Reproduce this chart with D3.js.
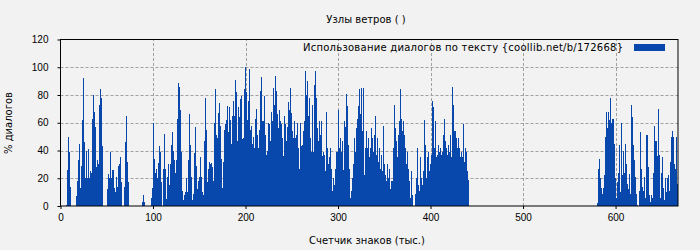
<html>
<head>
<meta charset="utf-8">
<style>
    body { margin: 0; background: #f2f2f2; }
    svg { display: block; font-family: "DejaVu Sans", sans-serif; }
    .tick text { font-size: 10px; fill: #000; }
</style>
<script src="https://cdn.jsdelivr.net/npm/d3@7"></script>
</head>
<body>
<svg id="chart"></svg>
<script>
    // width of one bin, thousands of characters
    let binSize = 1.08

    let xTicks = [0, 100, 200, 300, 400, 500, 600]
    let yTicks = [0, 20, 40, 60, 80, 100, 120]

    let title = "Узлы ветров ( )"
    let xLabel = "Счетчик знаков (тыс.)"
    let yLabel = "% диалогов"
    let legendLabel = "Использование диалогов по тексту {coollib.net/b/172668}"

    // where each run of bins starts (thousands of characters)
    let segStarts = [6.2, 17, 50.5, 69, 88, 97.6, 383.2, 579.8]

    let seg1 = [1, 26, 50, 39, 14]
    let seg2 = [7, 18, 33, 45, 13, 29, 62, 92, 46, 20, 40, 20, 41, 20, 25, 24, 63, 80, 68, 57, 28, 33, 30, 73, 84, 78, 43]
    let seg3 = [12, 23, 20, 39, 20, 26, 26, 13, 10, 21, 14, 29, 30, 35, 17]
    let seg4 = [14, 46, 65, 32, 17]
    let seg5 = [3, 8, 3]
    let seg6 = [
        6, 13, 60, 34, 24, 27, 20, 31, 43, 39, 17, 0, 27, 52, 27, 5, 21, 30, 15, 30,
        44, 53, 40, 33, 24, 33, 63, 89, 86, 69, 39, 11, 4, 8, 10, 20, 10, 33, 66, 44,
        21, 4, 9, 38, 57, 29, 12, 18, 21, 35, 21, 10, 8, 47, 78, 55, 17, 27, 32, 30,
        31, 28, 18, 60, 84, 51, 49, 67, 74, 58, 34, 13, 32, 55, 59, 62, 72, 53, 71, 62,
        45, 65, 76, 65, 91,
        82, 47, 71, 64, 77, 79, 48, 49, 84, 100, 82, 62, 76, 99,
        55, 58, 45, 50, 42, 63, 70, 51, 42, 55, 83, 93, 61, 61, 79, 51, 37, 40, 60, 59,
        47, 68, 61, 85, 73, 94, 83, 66, 56, 69, 61, 59, 49, 36, 65, 59, 47, 57, 75, 69,
        85, 67, 54, 49, 61, 49, 51, 60, 42, 27, 60, 43, 44, 54, 61, 97, 80, 90, 65, 78,
        49, 39, 73, 39, 87, 97, 78, 56, 47, 61, 51, 61, 36,
        39, 37, 25, 68, 42, 30, 35, 42, 27, 11, 20, 15, 27, 39, 39, 69, 42, 49, 39, 47,
        26, 61, 57, 81, 72, 44, 27, 6, 11, 20, 30, 49, 39, 56, 63, 72, 84, 66, 85, 54,
        85, 22, 42, 54, 42, 49, 35, 42, 56, 49, 39, 51, 65, 37, 49, 32, 42, 27, 37, 25,
        58, 30, 22, 18, 30, 20, 27, 12, 18, 18, 42, 73, 56, 47, 35, 51, 61, 84, 63, 54,
        61, 51, 42, 30, 39, 27, 18, 6, 25, 8
    ]
    let seg7 = [
        9, 20, 42, 15, 11, 35, 20, 15, 25, 62, 44, 20, 35, 39, 25, 30, 37, 76, 71, 42,
        61, 35, 37, 44, 39, 42, 37, 39, 51, 63, 47, 42, 37, 44, 39, 51, 35, 86, 73, 54,
        54, 49, 42, 49, 42, 35, 39, 35, 59, 32, 42, 39, 25, 19
    ]
    let seg8 = [
        2, 27, 34, 20, 13, 9, 13, 22, 50, 68, 56, 68, 62, 78, 60, 63, 63, 45, 20, 6,
        17, 24, 44, 10, 60, 22, 40, 24, 45, 30, 16, 12, 23, 9, 73, 64, 44, 33, 21, 9,
        1, 0, 11, 53, 27, 14, 11, 21, 6, 51, 51, 28, 8, 3, 8, 6, 24, 58, 47, 47,
        36, 70, 37, 6, 24, 35, 13, 4, 20, 10, 20, 22, 11, 32, 50, 54, 50, 30, 27, 50, 16
    ]

    let segValues = [seg1, seg2, seg3, seg4, seg5, seg6, seg7, seg8]

    function getBins() {
        let bins = []
        segValues.forEach((vals, s) => {
            vals.forEach((v, i) => {
                bins.push({x: segStarts[s] + i * binSize, value: v})
            })
        })
        return bins
    }

    function drawChart() {
        let width = 700, height = 250
        let margin = {left: 60.5, right: 22, top: 39.5, bottom: 44}
        let barColor = "#0847ab"

        let svg = d3.select("#chart")
            .attr("width", width)
            .attr("height", height)

        svg.append("rect")
            .attr("width", width).attr("height", height)
            .attr("fill", "#f2f2f2")

        let x = d3.scaleLinear().domain([0, 667.5]).range([margin.left, width - margin.right])
        let y = d3.scaleLinear().domain([0, 120]).range([height - margin.bottom, margin.top])

        // grid
        svg.append("g").selectAll("line")
            .data(yTicks.filter(d => d > 0 && d < 120))
            .enter().append("line")
            .attr("x1", x.range()[0]).attr("x2", x.range()[1])
            .attr("y1", d => Math.round(y(d)) + 0.5).attr("y2", d => Math.round(y(d)) + 0.5)
            .attr("stroke", "#a0a0a0")
            .attr("stroke-dasharray", "3,2")

        svg.append("g").selectAll("line")
            .data(xTicks.filter(d => d > 0))
            .enter().append("line")
            .attr("x1", d => Math.round(x(d)) + 0.5).attr("x2", d => Math.round(x(d)) + 0.5)
            .attr("y1", y.range()[0]).attr("y2", y.range()[1])
            .attr("stroke", "#a0a0a0")
            .attr("stroke-dasharray", "3,2")

        // bars
        let bins = getBins().filter(d => d.value > 0)
        svg.append("g")
            .attr("clip-path", "url(#plotClip)")
            .selectAll("rect")
            .data(bins)
            .enter().append("rect")
            .attr("x", d => Math.round(x(d.x)))
            .attr("width", d => Math.max(1, Math.round(x(d.x + binSize)) - Math.round(x(d.x))))
            .attr("y", d => Math.round(y(d.value)))
            .attr("height", d => Math.round(y(0)) - Math.round(y(d.value)))
            .attr("fill", barColor)
            .attr("shape-rendering", "crispEdges")

        svg.append("clipPath").attr("id", "plotClip")
            .append("rect")
            .attr("x", x.range()[0]).attr("y", y.range()[1])
            .attr("width", x.range()[1] - x.range()[0])
            .attr("height", y.range()[0] - y.range()[1])

        // frame
        svg.append("rect")
            .attr("x", x.range()[0]).attr("y", y.range()[1])
            .attr("width", x.range()[1] - x.range()[0])
            .attr("height", y.range()[0] - y.range()[1])
            .attr("fill", "none")
            .attr("stroke", "#000")

        // axes
        let xAxis = d3.axisBottom(x).tickValues(xTicks).tickSize(3).tickPadding(5)
        svg.append("g")
            .attr("transform", `translate(0, ${y.range()[0]})`)
            .call(xAxis)
            .call(g => g.select(".domain").remove())

        let yAxis = d3.axisLeft(y).tickValues(yTicks).tickSize(3).tickPadding(9)
        svg.append("g")
            .attr("transform", `translate(${x.range()[0]}, 0)`)
            .call(yAxis)
            .call(g => g.select(".domain").remove())

        // texts
        svg.append("text")
            .attr("x", 366).attr("y", 23)
            .attr("text-anchor", "middle")
            .style("font-size", "10px")
            .text(title)

        svg.append("text")
            .attr("x", 367).attr("y", 244)
            .attr("text-anchor", "middle")
            .style("font-size", "10px")
            .text(xLabel)

        svg.append("text")
            .attr("transform", `translate(12, 123) rotate(-90)`)
            .attr("text-anchor", "middle")
            .style("font-size", "10px")
            .text(yLabel)

        // legend
        svg.append("text")
            .attr("x", 303).attr("y", 51)
            .attr("textLength", 320)
            .attr("lengthAdjust", "spacing")
            .style("font-size", "10px")
            .text(legendLabel)

        svg.append("rect")
            .attr("x", 634).attr("y", 44)
            .attr("width", 31).attr("height", 7)
            .attr("fill", barColor)
    }

    drawChart()
</script>
</body>
</html>
